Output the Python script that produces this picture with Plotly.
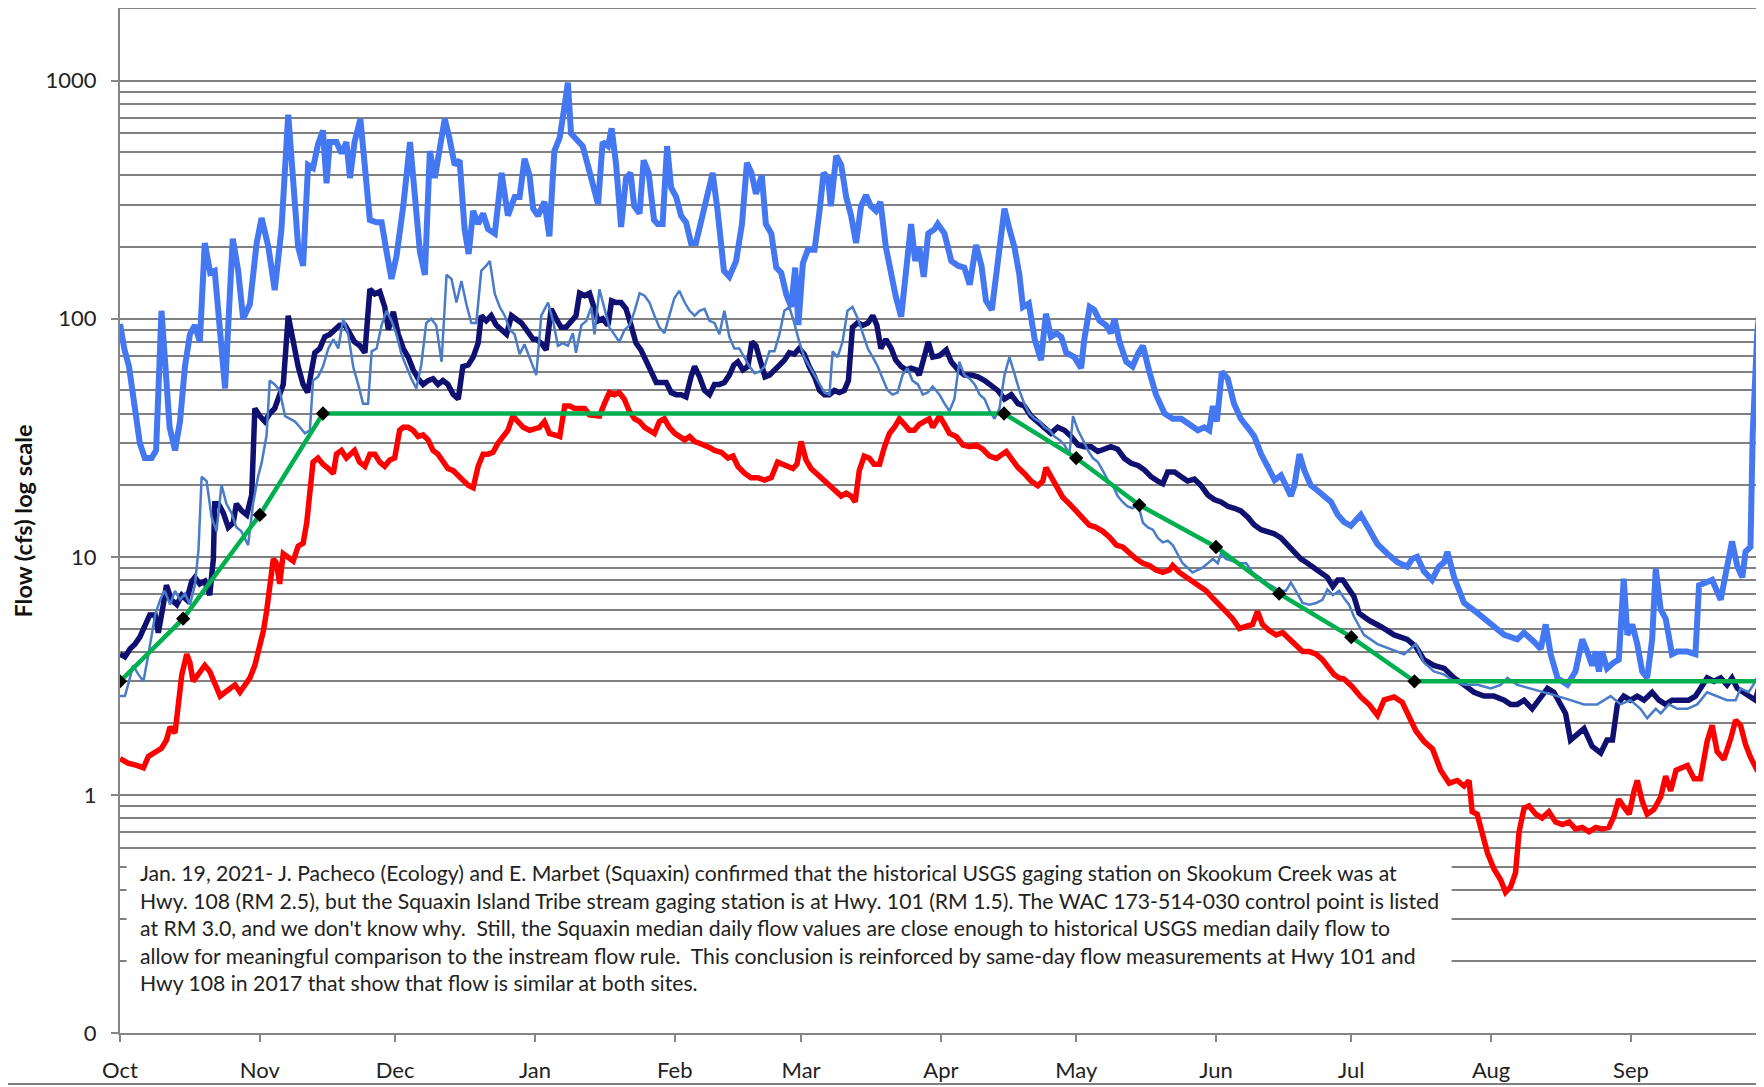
import numpy as np
import pandas as pd
import plotly.graph_objects as go

# water year start; series x values are days since Oct 1
base = pd.Timestamp("2018-10-01")

# Highest daily flow (bright blue)
max_days = [0, 1, 2, 3.3, 4.4, 5.5, 7, 8, 9.2, 10, 11, 12.2, 13.3, 14.4, 15.5, 16.6, 17.7, 18.8, 20, 21, 22.2, 23.3, 24.4, 25, 26.2, 27.3, 28.8, 30.3, 31.4, 32.9, 34.3, 35.8, 37.3, 38.4, 39.5, 40.6, 41.7, 42.8, 43.9, 45, 45.8, 46.5, 48, 49.1, 50.2, 51, 52, 53.3, 54.3, 55.4, 56.9, 58, 59.1, 60.2, 61.3, 62.8, 64.3, 65.4, 66.5, 67.6, 68.7, 69.8, 70.9, 72, 73, 74.2, 75.3, 76.4, 77.3, 78.3, 79.4, 80.5, 81.6, 83.1, 84.6, 86, 87.5, 88.6, 89.7, 90.8, 91.6, 92.7, 94.1, 95.2, 96.3, 97.5, 98.6, 99.3, 100, 101.5, 102.6, 103.7, 104.8, 106, 107, 108.2, 109, 110, 111.1, 112.2, 113.2, 114, 115.2, 116.1, 117.2, 118.4, 119.2, 120.3, 121.3, 122.2, 123.3, 124.4, 125.5, 126.6, 127.7, 128.8, 130.2, 131.4, 132.5, 133.9, 135.1, 136.6, 137.9, 139, 140, 141, 142.3, 143.2, 144.4, 145.5, 146.6, 147.7, 148.8, 149.7, 150.4, 151.4, 152.5, 154, 155.1, 156, 157, 157.6, 158.8, 159.9, 161, 162.1, 163.2, 164.3, 165.4, 166.5, 167.6, 168.6, 169.8, 171, 172, 173.2, 174.3, 175.4, 176.3, 177.2, 178.2, 179.2, 180.6, 181.3, 182.8, 184.3, 185.8, 187.2, 188.4, 189.8, 191, 192, 193.3, 194.3, 195.4, 196.1, 197.2, 198.3, 199.4, 200.2, 201.5, 202.8, 204.2, 205.3, 206.4, 207.6, 208.7, 209.8, 211.6, 213.1, 213.8, 215, 216, 217.2, 218.6, 219.7, 220.5, 221.6, 223.1, 224.5, 225.8, 226.8, 228.2, 229.7, 231.6, 233.4, 235.3, 237.1, 239, 240.4, 241.5, 242.3, 243.2, 244.3, 245.6, 247, 248.5, 250, 251.5, 253, 254.5, 256, 257.4, 258.5, 259.6, 260.4, 261.5, 262.6, 264, 265.5, 267, 268.5, 270, 271.4, 272.9, 275.1, 277, 278.8, 281, 283.2, 285.4, 286.5, 287.6, 289.1, 290.9, 292.4, 293.6, 294.3, 295.8, 298, 301, 303.9, 306.9, 309.8, 311.3, 313.5, 315, 316.1, 317.2, 318.7, 320.9, 322.7, 324.2, 325.3, 326.4, 327.2, 327.9, 328.6, 329.7, 331.2, 332.3, 333.4, 334.2, 335.3, 336.4, 337.5, 338.6, 339.7, 340.5, 341.6, 342.7, 344.1, 345.3, 347.5, 349.3, 350.1, 351.5, 353, 354.9, 356.3, 357.4, 358.6, 359.7, 360.4, 361.5, 362, 363, 363.7, 364.4]
max_flow = [95, 74, 63, 44, 30, 26, 26, 28, 108, 66, 35, 28, 37, 63, 86, 94, 80, 208, 156, 159, 90, 51, 132, 217, 159, 100, 115, 208, 265, 200, 132, 238, 720, 371, 200, 167, 443, 430, 540, 618, 371, 552, 552, 495, 552, 390, 552, 690, 410, 260, 254, 254, 191, 147, 183, 297, 552, 297, 191, 153, 506, 390, 531, 690, 578, 443, 463, 238, 187, 284, 250, 277, 238, 228, 410, 271, 325, 325, 470, 400, 290, 271, 310, 222, 506, 578, 790, 980, 600, 552, 531, 443, 371, 303, 552, 531, 630, 443, 243, 390, 410, 297, 277, 463, 410, 260, 250, 250, 531, 355, 325, 271, 254, 208, 208, 254, 335, 410, 284, 159, 150, 175, 250, 452, 410, 335, 400, 250, 228, 164, 156, 127, 112, 164, 94, 171, 195, 195, 284, 410, 390, 297, 484, 443, 325, 271, 208, 297, 330, 297, 284, 310, 200, 153, 124, 102, 167, 250, 175, 200, 150, 228, 238, 250, 228, 175, 167, 164, 139, 204, 167, 119, 109, 153, 238, 290, 238, 200, 153, 112, 116, 82, 67, 105, 84, 87, 84, 72, 69, 62, 82, 112, 109, 98, 94, 87, 100, 80, 66, 63, 72, 77, 60, 48, 40, 38, 38, 36, 34, 35, 34, 43, 37, 60, 56, 44, 38, 35, 32, 27, 24, 21, 22, 20, 18, 20, 27, 23, 20, 19, 18, 17, 15, 14, 13.5, 15, 13, 11.3, 10.3, 9.5, 9.1, 9.8, 10, 8.7, 8.0, 9.1, 9.5, 10.5, 8.2, 6.4, 5.8, 5.2, 4.7, 4.5, 4.8, 4.4, 4.1, 5.2, 3.9, 3.1, 2.9, 3.3, 4.5, 4.0, 3.5, 4.0, 3.3, 4.0, 3.4, 3.6, 3.7, 8.1, 4.7, 5.2, 4.3, 3.3, 3.1, 4.5, 8.9, 6.0, 5.5, 3.9, 4.0, 4.0, 3.9, 7.6, 7.8, 8.0, 6.6, 9.1, 11.6, 9.1, 8.2, 10.5, 11, 33, 87, 119, 125]

# Historical USGS median (navy)
usgs_days = [0, 1.1, 2.2, 3.3, 4.4, 5.5, 6.6, 7.8, 8.5, 9.6, 10.3, 11.4, 12.6, 13.7, 14.8, 15.9, 16.6, 17.7, 18.8, 19.9, 20.7, 21, 21.8, 22.9, 24, 25.1, 25.8, 27, 28.1, 29.2, 29.9, 31, 32.1, 33.2, 34.3, 35.4, 36.2, 37.3, 38.4, 39.5, 40.6, 41.6, 42.5, 43.2, 44.3, 45.4, 46.5, 47.6, 48.7, 49.9, 51, 52, 53.2, 54.3, 55.4, 56.5, 57.6, 58.7, 59.5, 60.6, 61.7, 62.8, 63.9, 65, 66.1, 67.2, 68.3, 69.4, 70.5, 71.6, 72.7, 73.9, 75, 76, 77.2, 78.3, 79.4, 80.1, 81.2, 82.3, 83.4, 84.6, 85.7, 86.8, 87.9, 89, 90.1, 91.6, 92.3, 93.4, 94.5, 95.6, 96.7, 97.8, 98.9, 100, 101.1, 101.9, 103, 104.1, 105.2, 106, 107, 108.2, 109, 110, 111.1, 112.2, 113.3, 114.4, 115.5, 116.7, 117.8, 118.9, 120, 121.1, 122.2, 123.3, 124.4, 125.5, 126.6, 127.4, 128.5, 129.6, 130.7, 131.8, 132.9, 134, 135.1, 136.1, 137, 138.1, 139.2, 140.1, 141, 142.1, 143, 144, 145.1, 146.2, 147.3, 148.4, 149.5, 150.6, 151.7, 152.8, 154, 155.1, 156.2, 157.3, 158.4, 159.5, 160.6, 161.5, 162.4, 163.5, 164.7, 165.8, 166.9, 167.8, 168.7, 169.8, 171, 172, 173.2, 174.3, 175.4, 176.5, 177.2, 178.3, 179.2, 180.2, 181.7, 183.2, 184.3, 185.8, 187.2, 188.7, 190.2, 191.7, 193.2, 194.6, 196.1, 197.6, 199.1, 200.5, 202, 203.5, 205, 206.4, 207.9, 209.4, 210.9, 212.4, 213.8, 215.3, 216.8, 218.3, 219.7, 221.2, 222.7, 224.2, 225.7, 227.1, 228.6, 230.1, 231.2, 232.3, 233.8, 235.3, 236.7, 238.2, 239.7, 241.2, 242.6, 244.1, 245.6, 247.1, 248.5, 250, 251.5, 253, 254.5, 255.9, 257.4, 258.9, 260.4, 261.8, 263.3, 264.8, 266.3, 267.7, 268.9, 270, 271.1, 272.5, 273.6, 274.7, 277, 279.5, 282.5, 285.4, 287.3, 289.1, 291.3, 293.6, 295.8, 298, 300.2, 302.4, 304.6, 306.9, 308.3, 309.8, 311.3, 313.1, 315, 316.5, 317.9, 319.4, 320.5, 321.6, 323.1, 324.6, 326.4, 328.3, 329.7, 330.9, 332, 333.4, 334.9, 336.4, 337.9, 339.7, 341.2, 342.7, 344.1, 346, 347.8, 349.3, 350.8, 351.9, 353.4, 354.9, 356.3, 357.4, 358.6, 360, 361.1, 362.6, 363.7, 364.4]
usgs_flow = [3.9, 3.8, 4.1, 4.3, 4.6, 5.2, 5.7, 5.7, 4.8, 6.3, 7.6, 6.6, 6.3, 6.9, 6.6, 7.9, 8.2, 7.7, 7.9, 6.9, 9.8, 16.7, 16.7, 15.3, 13.3, 13.9, 16.7, 15.6, 15, 18.2, 42, 39, 37, 40, 42, 48, 53, 103, 80, 63, 53, 49, 61, 72, 75, 84, 86, 90, 94, 94, 86, 80, 77, 72, 133, 127, 130, 112, 90, 107, 86, 75, 69, 61, 56, 53, 55, 56, 53, 55, 53, 48, 46, 63, 64, 69, 79, 103, 98, 103, 94, 90, 86, 103, 100, 96, 90, 82, 82, 79, 74, 110, 100, 92, 92, 98, 103, 128, 125, 128, 112, 98, 100, 94, 119, 117, 117, 110, 94, 79, 74, 66, 61, 54, 54, 54, 49, 48, 48, 47, 57, 63, 57, 50, 48, 53, 53, 54, 58, 64, 66, 61, 63, 80, 77, 66, 57, 58, 61, 64, 67, 72, 71, 75, 71, 63, 57, 50, 48, 48, 50, 49, 50, 55, 92, 96, 94, 96, 103, 94, 75, 82, 75, 67, 63, 61, 62, 61, 58, 69, 80, 69, 70, 74, 66, 61, 58, 58, 57, 55, 52, 50, 46, 48, 44, 43, 39, 37, 35, 33, 35, 34, 32, 29.5, 29, 29, 27.7, 28.3, 29, 28.3, 25.9, 24.7, 24.2, 23.2, 21.7, 20.8, 20.3, 22.7, 22.7, 21.7, 20.8, 21.2, 19.9, 18.2, 17.4, 17.0, 16.3, 16.0, 15.6, 14.7, 13.6, 13.0, 12.8, 12.5, 12.0, 11.2, 10.5, 9.8, 9.4, 9.0, 8.6, 8.2, 7.5, 8.0, 8.0, 7.2, 6.8, 5.8, 5.4, 5.1, 4.7, 4.5, 4.2, 3.7, 3.5, 3.4, 3.1, 2.9, 2.7, 2.6, 2.6, 2.5, 2.4, 2.4, 2.5, 2.3, 2.6, 2.8, 2.7, 2.4, 2.2, 1.7, 1.8, 1.9, 1.6, 1.5, 1.7, 1.7, 2.4, 2.6, 2.5, 2.6, 2.5, 2.7, 2.5, 2.4, 2.5, 2.5, 2.5, 2.6, 2.9, 3.1, 3.0, 3.1, 2.9, 3.1, 2.8, 2.7, 2.6, 2.5, 3.0, 3.5]

# Squaxin median (thin blue)
sqx_days = [0, 1.1, 2.2, 2.9, 4.1, 5.2, 6.3, 7.8, 8.9, 9.9, 11.1, 12.2, 13.3, 14.4, 15.5, 16.6, 17.4, 18.1, 19.2, 20.3, 21.4, 22.5, 23.6, 24.7, 25.8, 26.9, 28.4, 29.5, 30.6, 31.4, 32.5, 33.2, 34.3, 35.4, 36.6, 37.7, 38.8, 39.9, 41, 42.1, 42.8, 43.9, 45, 46.2, 47.3, 48.4, 49.5, 50.6, 51.7, 52.8, 53.9, 55, 55.8, 56.9, 58, 59.1, 60.2, 61.3, 62.4, 63.5, 64.6, 65.7, 66.8, 67.9, 69, 70.1, 71.3, 72.4, 73.5, 74.6, 75.7, 76.8, 77.9, 79, 80.1, 81.2, 82, 83.1, 84.2, 85.3, 86.4, 87.5, 88.6, 89.7, 90.8, 92.3, 93.4, 94.9, 96, 97.1, 98.2, 99.3, 100.4, 101.1, 102.3, 103.4, 104.5, 105.2, 106.3, 107.4, 108.5, 109.6, 110.7, 111.9, 113, 114.1, 115.2, 116.3, 117.4, 118.5, 119.6, 120.7, 121.8, 122.9, 124, 125.2, 126.3, 127.4, 128.5, 129.6, 130.7, 131.8, 132.9, 134, 135.1, 136.2, 137.3, 138.4, 139.6, 140.7, 141.8, 142.9, 144, 145.1, 146.2, 147.3, 148.4, 149.5, 150.6, 151.7, 152.9, 154, 155.1, 156.2, 157.3, 158, 159.1, 160.2, 161.3, 162.4, 163.6, 164.7, 165.8, 166.9, 168, 169.1, 170.2, 171.3, 172.4, 173.5, 174.6, 175.7, 176.9, 178, 179.1, 180.2, 181.7, 182.8, 183.9, 185, 186.1, 187.2, 188.4, 189.5, 190.6, 191.7, 192.8, 193.9, 195, 196.1, 197.2, 198.3, 199.4, 200.5, 201.6, 202.8, 203.9, 205, 206.1, 207.2, 208.3, 209.4, 210.5, 211.3, 212.4, 213.5, 214.6, 215.7, 216.8, 217.9, 219, 220.1, 221.2, 222.3, 223.4, 224.5, 225.7, 226.8, 227.9, 229, 230.1, 231.2, 232.3, 233.4, 234.5, 235.6, 236.7, 237.8, 238.9, 240, 241.2, 242.3, 243.4, 244.1, 245.2, 246.7, 248.2, 249.7, 251.1, 252.6, 254.1, 255.6, 257, 258.5, 259.6, 260.7, 262.2, 263.7, 265.2, 266.6, 267.7, 268.9, 270.3, 271.4, 272.5, 273.6, 275.8, 278.8, 281.7, 284.7, 287.3, 289.1, 291.3, 293.6, 295.8, 298, 301, 303.9, 306.1, 307.6, 309.8, 312.8, 315.7, 318.7, 321.6, 324.6, 327.5, 330.5, 332.7, 334.9, 337.1, 338.6, 340.5, 341.6, 343.4, 345.3, 347.5, 349.7, 351.9, 354.1, 356.3, 358.2, 359.3, 361.1, 362.6, 364.4]
sqx_flow = [2.6, 2.6, 3.1, 3.5, 3.2, 3.0, 3.9, 5.7, 6.6, 7.2, 6.3, 7.2, 6.6, 7.0, 6.3, 7.6, 10.7, 21.7, 20.8, 14.7, 12.8, 20, 16.7, 15.3, 13.3, 12.8, 11.2, 16.7, 21.7, 24.8, 32.4, 55, 53, 50, 39, 38, 37, 35, 33, 34, 55, 57, 63, 75, 82, 75, 100, 86, 63, 53, 44, 44, 73, 75, 94, 108, 98, 86, 71, 63, 56, 51, 64, 96, 100, 94, 66, 153, 147, 117, 144, 115, 96, 96, 159, 167, 175, 127, 112, 103, 90, 86, 71, 78, 69, 58, 103, 117, 98, 77, 79, 77, 87, 72, 94, 98, 112, 86, 133, 112, 92, 86, 80, 90, 94, 108, 128, 125, 117, 103, 92, 87, 103, 122, 131, 117, 108, 103, 108, 110, 98, 96, 86, 108, 84, 75, 75, 69, 63, 59, 60, 63, 73, 73, 86, 108, 112, 96, 80, 69, 63, 58, 53, 49, 48, 73, 69, 80, 108, 112, 100, 86, 75, 69, 63, 56, 50, 48, 49, 58, 62, 55, 53, 48, 49, 52, 48, 44, 41, 46, 66, 58, 56, 53, 48, 46, 41, 38, 42, 58, 69, 59, 50, 44, 40, 38, 37, 35, 34, 32, 31, 29.5, 27, 39, 34, 31, 28, 26, 25, 23, 21, 20, 18, 17, 16.3, 16, 16.7, 13.9, 13.3, 13, 12, 11.5, 11.7, 11.2, 10.3, 9.4, 9.0, 8.6, 8.8, 9.0, 9.4, 9.8, 9.4, 10.3, 9.8, 9.6, 9.4, 9.4, 8.6, 8.2, 7.8, 7.5, 7.2, 7.2, 7.8, 7.2, 6.4, 6.3, 6.4, 6.6, 7.3, 6.9, 7.2, 6.7, 6.3, 5.6, 4.7, 4.3, 4.1, 3.9, 4.3, 3.6, 3.3, 3.2, 3.0, 2.9, 2.9, 2.8, 2.9, 3.1, 2.9, 2.8, 2.7, 2.6, 2.5, 2.4, 2.4, 2.6, 2.4, 2.5, 2.3, 2.1, 2.3, 2.2, 2.4, 2.3, 2.3, 2.4, 2.7, 2.6, 2.5, 2.5, 2.8, 2.7, 3.0, 3.6]

# Lowest daily flow (red)
min_days = [0, 1.8, 3.7, 5.2, 6.3, 7.8, 9.2, 10.3, 11.1, 12.2, 12.9, 13.7, 14.8, 15.5, 16.2, 17.7, 18.8, 19.9, 21, 22.2, 23.3, 24.4, 25.5, 26.6, 27.7, 28.8, 29.9, 31, 31.8, 32.5, 33.2, 34, 34.7, 35.4, 36.2, 37.3, 38.4, 39.5, 40.6, 41.4, 42.1, 42.8, 43.9, 45, 46.2, 47.3, 48, 49.1, 50.2, 51.3, 52, 53.1, 54.3, 55.4, 56.5, 57.6, 58.7, 59.8, 60.9, 62, 62.8, 63.9, 65, 66.1, 67.2, 68.3, 69.4, 70.5, 71.6, 72.7, 73.9, 75, 76, 77.2, 78.3, 79.4, 80.5, 81.6, 82.7, 83.8, 84.9, 86, 87.1, 88.3, 89.4, 90.8, 91.9, 93, 94.1, 95.2, 96.7, 97.5, 98.6, 99.7, 100.8, 101.9, 103, 104.1, 105.2, 106.3, 107.4, 108.5, 109.6, 110.7, 111.8, 112.9, 114.1, 115.2, 116.3, 117.4, 118.5, 119.6, 120.7, 121.8, 123, 124.1, 125.2, 126.3, 127.4, 128.5, 129.6, 130.7, 131.8, 133.3, 134.8, 135.9, 137, 138.4, 139.9, 141.4, 142.9, 144.4, 145.8, 147, 148, 149.2, 150.1, 151, 152.1, 153.2, 154.3, 155.4, 156.5, 157.6, 158.8, 159.9, 161, 162.1, 163, 163.9, 165, 166.1, 167.2, 168.4, 169.5, 170.6, 171.7, 172.8, 173.9, 175, 176.1, 177.2, 178.3, 179.4, 180.2, 181.7, 182.8, 183.9, 185.4, 186.9, 188.4, 189.8, 191.3, 192.8, 194.3, 195.4, 196.5, 197.6, 199.1, 200.5, 202, 203.5, 204.6, 205.3, 206.4, 207.6, 209, 210.5, 212, 213.5, 214.9, 216.4, 217.9, 219.4, 220.9, 222.3, 223.8, 225.3, 226.8, 228.2, 229.7, 231.2, 232.7, 233.4, 234.9, 236.4, 237.8, 239.3, 240.8, 242.3, 243.8, 245.2, 246.7, 248.2, 249.7, 251.1, 252.2, 253.3, 254.8, 256.3, 257.8, 259.3, 260.7, 262.2, 263.7, 265.2, 266.6, 268.1, 269.2, 270.3, 271.4, 273.2, 275.1, 277, 278.8, 280.3, 282.5, 284.3, 285.8, 287.3, 289.1, 291, 292.8, 294.7, 296.5, 298, 299.1, 299.8, 300.9, 302, 303.2, 304.6, 306.1, 307.2, 308.3, 309.4, 310.2, 311.3, 312.4, 313.9, 315.3, 316.8, 318.3, 319.8, 321.3, 322.7, 324.2, 325.7, 327.2, 328.6, 330.1, 331.2, 332.3, 333.4, 334.6, 335.7, 336.4, 337.5, 338.6, 340.1, 341.6, 342.7, 343.8, 345, 346.4, 347.5, 349, 350.4, 351.9, 353, 354.1, 355.6, 357.1, 358.2, 359.3, 360.4, 361.5, 363, 364.4]
min_flow = [1.42, 1.36, 1.33, 1.30, 1.45, 1.51, 1.57, 1.70, 1.93, 1.82, 2.5, 3.2, 3.9, 3.6, 3.0, 3.3, 3.5, 3.3, 2.9, 2.6, 2.7, 2.8, 2.9, 2.7, 2.9, 3.1, 3.5, 4.2, 4.9, 5.9, 7.9, 9.8, 9.4, 7.7, 10.3, 10.0, 9.6, 11.1, 11.4, 13.9, 20, 25, 26, 24.5, 23.5, 22.4, 27, 28, 26, 27, 28, 25, 24, 27, 27, 25, 24, 25.5, 26, 34, 35, 35, 34, 32, 32.5, 31, 28, 27, 25, 23.5, 23, 21.7, 21, 20, 19.5, 24, 27, 27, 27.5, 30, 32, 34, 39, 37, 35, 34, 34.5, 35, 37, 33, 32.4, 32, 43, 43, 42, 42, 42, 39.5, 39.5, 39, 44, 49, 48, 49, 46, 41, 38, 37, 35, 34, 33, 37, 38, 35, 33, 32, 31, 32, 30.5, 30, 29.5, 28.8, 28, 27.5, 26, 26.5, 24, 22.5, 21.5, 21.5, 21, 21.5, 25, 24.5, 24, 23.5, 24.5, 30.5, 25.5, 23.5, 22.5, 21.5, 20.5, 19.5, 18.5, 18, 18.5, 18, 17, 23, 26.5, 26, 24.5, 24.5, 29, 33, 35, 38, 36, 34, 34, 36, 37, 38, 35, 39, 36, 33, 32, 29.5, 29, 29.5, 28.3, 26.5, 25.9, 27, 27.7, 25.9, 23.7, 22.4, 20.8, 19.9, 20.8, 23.7, 21.7, 19.5, 17.8, 16.7, 15.6, 14.7, 13.6, 13.3, 12.8, 12.1, 11.2, 11.0, 10.3, 9.8, 9.4, 9.2, 8.8, 8.6, 8.8, 9.2, 8.6, 8.2, 7.8, 7.5, 7.2, 6.7, 6.3, 5.9, 5.5, 5.0, 5.1, 5.2, 5.9, 5.2, 4.9, 4.7, 4.8, 4.5, 4.2, 4.0, 4.0, 3.9, 3.7, 3.4, 3.2, 3.1, 3.07, 2.85, 2.58, 2.39, 2.16, 2.51, 2.58, 2.45, 2.1, 1.86, 1.68, 1.56, 1.27, 1.12, 1.15, 1.09, 1.15, 0.85, 0.83, 0.70, 0.57, 0.49, 0.44, 0.39, 0.41, 0.47, 0.70, 0.88, 0.90, 0.83, 0.80, 0.85, 0.77, 0.75, 0.77, 0.72, 0.73, 0.70, 0.73, 0.72, 0.73, 0.81, 0.96, 0.89, 0.83, 1.04, 1.15, 0.94, 0.83, 0.87, 0.98, 1.20, 1.04, 1.27, 1.30, 1.33, 1.17, 1.17, 1.68, 1.96, 1.52, 1.41, 1.72, 2.06, 1.96, 1.63, 1.44, 1.27, 1.20]

# WAC 173-514-030 instream flow (green line, black diamonds at set points)
rule_dates = ["2018-10-01", "2018-10-15", "2018-11-01", "2018-11-15", "2019-04-15", "2019-05-01",
              "2019-05-15", "2019-06-01", "2019-06-15", "2019-07-01", "2019-07-15", "2019-10-01"]
rule_flow = [3, 5.5, 15, 40, 40, 26, 16.5, 11, 7, 4.6, 3, 3]

note_lines = [
    "Jan. 19, 2021- J. Pacheco (Ecology) and E. Marbet (Squaxin) confirmed that the historical USGS gaging station on Skookum Creek was at",
    "Hwy. 108 (RM 2.5), but the Squaxin Island Tribe stream gaging station is at Hwy. 101 (RM 1.5). The WAC 173-514-030 control point is listed",
    "at RM 3.0, and we don't know why.&nbsp; Still, the Squaxin median daily flow values are close enough to historical USGS median daily flow to",
    "allow for meaningful comparison to the instream flow rule.&nbsp; This conclusion is reinforced by same-day flow measurements at Hwy 101 and",
    "Hwy 108 in 2017 that show that flow is similar at both sites.",
]

y_tickvals = [0.1, 1, 10, 100, 1000]
y_ticktext = ["0", "1", "10", "100", "1000"]


def to_dates(days):
    return base + pd.to_timedelta(np.array(days, dtype=float), unit="D")


fig = go.Figure()

fig.add_trace(go.Scatter(x=to_dates(max_days), y=max_flow, mode="lines",
                         line=dict(color="#4477f2", width=6), name="Max"))
fig.add_trace(go.Scatter(x=to_dates(usgs_days), y=usgs_flow, mode="lines",
                         line=dict(color="#0f1070", width=5.5), name="USGS median"))
fig.add_trace(go.Scatter(x=to_dates(sqx_days), y=sqx_flow, mode="lines",
                         line=dict(color="#4a7cc8", width=2.5), name="Squaxin median"))
fig.add_trace(go.Scatter(x=to_dates(min_days), y=min_flow, mode="lines",
                         line=dict(color="#ff0000", width=5.5), name="Min"))
fig.add_trace(go.Scatter(x=rule_dates, y=rule_flow, mode="lines",
                         line=dict(color="#00b050", width=4.5), name="Instream flow"))
fig.add_trace(go.Scatter(x=rule_dates[:-1], y=rule_flow[:-1], mode="markers",
                         marker=dict(symbol="diamond", size=11, color="black"),
                         name="Set points"))

# minor gridlines at 2..9 of every decade
minor_vals = [k * d for d in [0.1, 1, 10, 100, 1000] for k in range(2, 10) if k * d <= 2000]

fig.update_yaxes(
    type="log", range=[-1, np.log10(2000)],
    tickmode="array", tickvals=y_tickvals, ticktext=y_ticktext,
    ticks="outside", ticklen=7, tickcolor="#868686", tickwidth=2,
    ticklabelstandoff=10,
    showline=True, linecolor="#868686", linewidth=2,
    showgrid=True, gridcolor="#808080", gridwidth=2,
    minor=dict(tickmode="array", tickvals=minor_vals, showgrid=True,
               gridcolor="#808080", gridwidth=2, ticks=""),
    tickfont=dict(family="Lato", size=22, color="#222222"),
    zeroline=False,
)
fig.update_xaxes(
    type="date", range=[base, base + pd.Timedelta(days=364.5)],
    tick0="2018-10-01", dtick="M1", tickformat="%b",
    ticks="outside", ticklen=7, tickcolor="#868686", tickwidth=2,
    ticklabelstandoff=10,
    showline=True, linecolor="#868686", linewidth=2, mirror=True,
    showgrid=False,
    tickfont=dict(family="Lato", size=22, color="#222222"),
)

# white note box over the lower gridlines
fig.add_shape(type="rect", xref="paper", yref="paper", x0=0.004, x1=0.81, y0=0.008, y1=0.171,
              fillcolor="white", line=dict(width=0), layer="above")
fig.add_annotation(xref="paper", yref="paper", x=0.011, y=0.1705, xanchor="left", yanchor="top",
                   align="left", showarrow=False, text="<br>".join(note_lines),
                   font=dict(family="Lato", size=21.2, color="#222222"))

# y axis title
fig.add_annotation(xref="paper", yref="paper", x=-0.0593, y=0.5, xanchor="center", yanchor="middle",
                   textangle=-90, showarrow=False,
                   text="<b>Flow (cfs) log scale</b>",
                   font=dict(family="Lato", size=23.5, color="#111111"))

# outer border line at the bottom
fig.add_shape(type="line", xref="paper", yref="paper", x0=-0.07, x1=1, y0=-0.0498, y1=-0.0498,
              line=dict(color="#7f7f7f", width=2))

# page body has an 8px margin, so the figure is 8px smaller than the window
fig.update_layout(
    width=1756, height=1079, autosize=False,
    margin=dict(l=112, r=0, t=1, b=54),
    paper_bgcolor="white", plot_bgcolor="white",
    showlegend=False,
)

fig.write_html("out.html")
